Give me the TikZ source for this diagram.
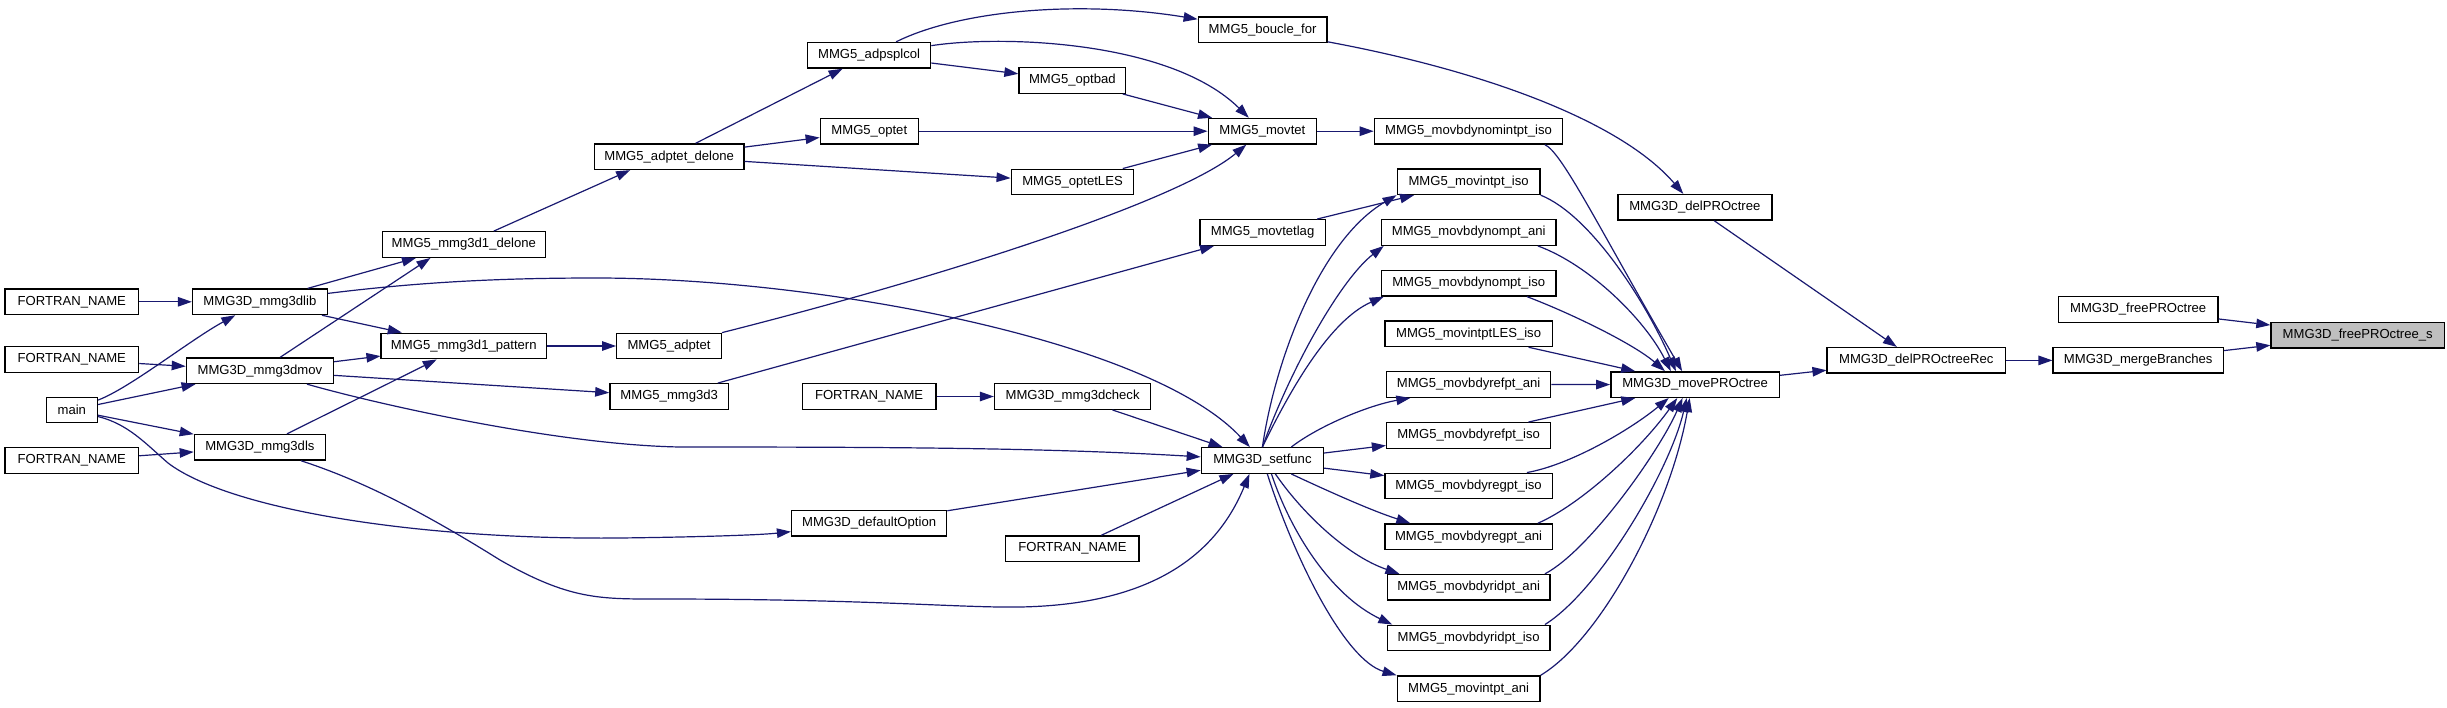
\documentclass[tikz,border=0pt]{standalone}
\usepackage{fontspec}
\newfontfamily\dfont{Liberation Sans}
\usetikzlibrary{arrows.meta}
\definecolor{mblue}{HTML}{191970}
\definecolor{hgrey}{HTML}{BFBFBF}
\tikzset{
  fn/.style={draw=black, fill=white, line width=1.4pt, minimum height=25.5pt, inner sep=0pt,
    font=\dfont\fontsize{13.1pt}{15.7pt}\selectfont, text=black},
  cl/.style={draw=mblue, line width=1.2pt, -{Triangle[length=14pt,width=9.5pt]}, fill=none}
}
\begin{document}
\begin{tikzpicture}[x=1pt,y=-1pt]
\useasboundingbox (0,0) rectangle (2447,707);
\fill[white] (0,0) rectangle (2447,707);
% column 0
\node[fn, minimum width=133.5pt] (fA) at (71.8,301.8) {FORTRAN\_NAME};
\node[fn, minimum width=133.5pt] (fB) at (71.8,359.5) {FORTRAN\_NAME};
\node[fn, minimum width=51pt] (main) at (71.8,410) {main};
\node[fn, minimum width=133.5pt] (fC) at (71.8,460.5) {FORTRAN\_NAME};
% column 1
\node[fn, minimum width=134.7pt] (lib) at (259.9,301.8) {MMG3D\_mmg3dlib};
\node[fn, minimum width=147pt] (mov) at (259.9,370.7) {MMG3D\_mmg3dmov};
\node[fn, minimum width=131pt] (ls) at (259.9,447.3) {MMG3D\_mmg3dls};
% column 2
\node[fn, minimum width=163pt] (delone) at (463.8,244.5) {MMG5\_mmg3d1\_delone};
\node[fn, minimum width=165.3pt] (pattern) at (463.8,346) {MMG5\_mmg3d1\_pattern};
% column 3
\node[fn, minimum width=149.3pt] (adptetdelone) at (669.2,156.7) {MMG5\_adptet\_delone};
\node[fn, minimum width=104.5pt] (adptet) at (669,346) {MMG5\_adptet};
\node[fn, minimum width=118.6pt] (mmgthree) at (669.2,396.5) {MMG5\_mmg3d3};
% column 4
\node[fn, minimum width=123pt] (adpsplcol) at (869.1,55.3) {MMG5\_adpsplcol};
\node[fn, minimum width=98pt] (optet) at (869.3,131.2) {MMG5\_optet};
\node[fn, minimum width=133.6pt] (fD) at (869.1,396.5) {FORTRAN\_NAME};
\node[fn, minimum width=155pt] (defopt) at (869.1,523.2) {MMG3D\_defaultOption};
% column 5
\node[fn, minimum width=106.7pt] (optbad) at (1072.4,80.5) {MMG5\_optbad};
\node[fn, minimum width=122.5pt] (optetLES) at (1072.5,182) {MMG5\_optetLES};
\node[fn, minimum width=156.1pt] (check) at (1072.6,396.5) {MMG3D\_mmg3dcheck};
\node[fn, minimum width=133.5pt] (fE) at (1072.4,548.7) {FORTRAN\_NAME};
% column 6
\node[fn, minimum width=128.6pt] (boucle) at (1262.6,29.8) {MMG5\_boucle\_for};
\node[fn, minimum width=108.3pt] (movtet) at (1262.4,131.2) {MMG5\_movtet};
\node[fn, minimum width=125.5pt] (movtetlag) at (1262.6,232.5) {MMG5\_movtetlag};
\node[fn, minimum width=122.1pt] (setfunc) at (1262.4,460.5) {MMG3D\_setfunc};
% column 7
\node[fn, minimum width=188.3pt] (nomintpt) at (1468.5,131.2) {MMG5\_movbdynomintpt\_iso};
\node[fn, minimum width=142.7pt] (intptiso) at (1468.6,181.7) {MMG5\_movintpt\_iso};
\node[fn, minimum width=174.9pt] (nomptani) at (1468.7,232.5) {MMG5\_movbdynompt\_ani};
\node[fn, minimum width=174.9pt] (nomptiso) at (1468.7,283.2) {MMG5\_movbdynompt\_iso};
\node[fn, minimum width=167.3pt] (intptLES) at (1468.6,333.8) {MMG5\_movintptLES\_iso};
\node[fn, minimum width=164.1pt] (refani) at (1468.6,384.5) {MMG5\_movbdyrefpt\_ani};
\node[fn, minimum width=164.1pt] (refiso) at (1468.6,435.5) {MMG5\_movbdyrefpt\_iso};
\node[fn, minimum width=167.3pt] (regiso) at (1468.6,486) {MMG5\_movbdyregpt\_iso};
\node[fn, minimum width=167.3pt] (regani) at (1468.6,536.7) {MMG5\_movbdyregpt\_ani};
\node[fn, minimum width=162.7pt] (ridani) at (1468.6,587.3) {MMG5\_movbdyridpt\_ani};
\node[fn, minimum width=162.7pt] (ridiso) at (1468.6,638) {MMG5\_movbdyridpt\_iso};
\node[fn, minimum width=142.7pt] (intptani) at (1468.6,688.7) {MMG5\_movintpt\_ani};
% column 8+
\node[fn, minimum width=154pt] (delPRO) at (1694.8,207.3) {MMG3D\_delPROctree};
\node[fn, minimum width=168.6pt] (movePRO) at (1695.1,384.6) {MMG3D\_movePROctree};
\node[fn, minimum width=178.3pt] (delRec) at (1916.3,360.4) {MMG3D\_delPROctreeRec};
\node[fn, minimum width=170.2pt] (merge) at (2138.2,360.4) {MMG3D\_mergeBranches};
\node[fn, minimum width=159.4pt] (free) at (2138.2,309.5) {MMG3D\_freePROctree};
\node[fn, minimum width=173.4pt, fill=hgrey] (frees) at (2357.7,335.3) {MMG3D\_freePROctree\_s};

% edges
\draw[cl] (fA) -- (lib);
\draw[cl] (fB) -- (mov);
\draw[cl] (fC) -- (ls);
\draw[cl] (main) .. controls (130,388) and (190,340) .. (lib);
\draw[cl] (main) -- (mov);
\draw[cl] (main) -- (ls);
\draw[cl] (main) .. controls (128,424) and (145,443) .. (168,463) .. controls (230,510) and (420,540) .. (620,538) .. controls (700,537) and (760,535) .. (defopt);
\draw[cl] (lib) -- (delone);
\draw[cl] (lib) -- (pattern);
\draw[cl] (lib) .. controls (420,282) and (500,278) .. (596,278) .. controls (820,278) and (1150,340) .. (setfunc);
\draw[cl] (mov) -- (delone.202);
\draw[cl] (mov) -- (pattern);
\draw[cl] (mov) -- (mmgthree);
\draw[cl] (mov) .. controls (380,405) and (560,445) .. (680,447) .. controls (900,447) and (1050,448) .. (setfunc);
\draw[cl] (ls) -- (pattern);
\draw[cl] (ls) .. controls (360,480) and (420,510) .. (500,560) .. controls (570,600) and (600,599) .. (660,599) .. controls (870,599) and (960,608) .. (1020,607) .. controls (1130,605) and (1210,570) .. (setfunc.226);
\draw[cl] (defopt) -- (setfunc);
\draw[cl] (fE) -- (setfunc);
\draw[cl] (fD) -- (check);
\draw[cl] (check) -- (setfunc);
\draw[cl] (delone) -- (adptetdelone.199);
\draw[cl] (pattern) -- (adptet);
\draw[cl] (mmgthree) -- (movtetlag);
\draw[cl] (adptet) .. controls (950,275) and (1180,200) .. (movtet);
\draw[cl] (adptetdelone) -- (adpsplcol);
\draw[cl] (adptetdelone) -- (optet);
\draw[cl] (adptetdelone) -- (optetLES);
\draw[cl] (adpsplcol) .. controls (960,10) and (1080,0) .. (boucle);
\draw[cl] (adpsplcol) .. controls (1000,35) and (1170,40) .. (movtet);
\draw[cl] (adpsplcol) -- (optbad);
\draw[cl] (optbad) -- (movtet);
\draw[cl] (optet) -- (movtet);
\draw[cl] (optetLES) -- (movtet);
\draw[cl] (movtet) -- (nomintpt);
\draw[cl] (movtetlag) -- (intptiso);
\draw[cl] (boucle) .. controls (1480,70) and (1620,120) .. (delPRO);
\draw[cl] (setfunc.north) .. controls (1275,360) and (1320,240) .. (intptiso.south west);
\draw[cl] (setfunc.north) .. controls (1290,370) and (1340,280) .. (nomptani.189);
\draw[cl] (setfunc.north) .. controls (1290,390) and (1330,320) .. (nomptiso.189);
\draw[cl] (setfunc.25) .. controls (1320,425) and (1370,405) .. (refani.193);
\draw[cl] (setfunc) -- (refiso);
\draw[cl] (setfunc) -- (regiso);
\draw[cl] (setfunc.335) .. controls (1330,492) and (1370,510) .. (regani.167);
\draw[cl] (setfunc.314) .. controls (1300,510) and (1345,555) .. (ridani.169);
\draw[cl] (setfunc.304) .. controls (1290,530) and (1330,595) .. (ridiso.170);
\draw[cl] (setfunc.290) .. controls (1295,560) and (1345,660) .. (intptani.north west);
\draw[cl] (nomintpt.350) .. controls (1562,152) and (1600,230) .. (movePRO.134);
\draw[cl] (intptiso.south east) .. controls (1590,215) and (1645,300) .. (movePRO.145);
\draw[cl] (nomptani.349) .. controls (1590,265) and (1645,320) .. (movePRO.151);
\draw[cl] (nomptiso.347) .. controls (1575,315) and (1635,345) .. (movePRO.156);
\draw[cl] (intptLES) -- (movePRO);
\draw[cl] (refani) -- (movePRO);
\draw[cl] (refiso) -- (movePRO);
\draw[cl] (regiso.13) .. controls (1570,465) and (1630,430) .. (movePRO.207);
\draw[cl] (regani.11) .. controls (1580,505) and (1640,450) .. (movePRO.217);
\draw[cl] (ridani.10) .. controls (1590,550) and (1660,450) .. (movePRO.227);
\draw[cl] (ridiso.10) .. controls (1600,590) and (1670,470) .. (movePRO.238);
\draw[cl] (intptani.north east) .. controls (1600,640) and (1670,510) .. (movePRO.248);
\draw[cl] (movePRO) -- (delRec);
\draw[cl] (delPRO) -- (delRec);
\draw[cl] (delRec) -- (merge);
\draw[cl] (merge) -- (frees);
\draw[cl] (free) -- (frees);
\end{tikzpicture}
\end{document}
